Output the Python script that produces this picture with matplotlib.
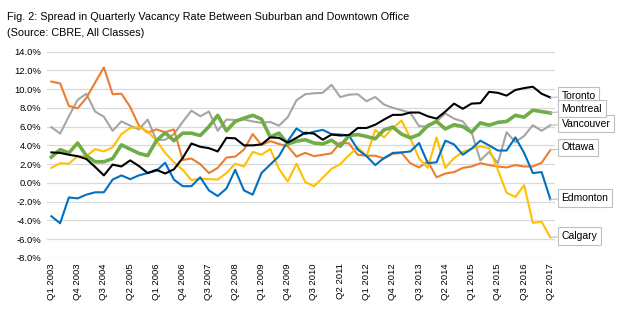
import matplotlib.pyplot as plt
import numpy as np

plt.rcParams['font.family'] = ['Liberation Sans', 'DejaVu Sans']

# quarterly spread, Q1 2003 .. Q2 2017 (%)
quarters = [f"Q{q} {y}" for y in range(2003, 2018) for q in range(1, 5)][:58]

toronto = [3.25, 3.2, 3.0, 2.85, 2.55, 1.7, 0.8, 1.95, 1.75, 2.4, 1.8, 1.05, 1.4, 1.0, 1.45,
           2.65, 4.2, 3.85, 3.7, 3.35, 4.8, 4.75, 4.0, 4.0, 4.1, 4.85, 4.8, 4.3, 4.8, 5.35,
           5.25, 4.6, 5.15, 5.05, 5.1, 5.85, 5.85, 6.2, 6.75, 7.25, 7.25, 7.5, 7.5, 7.1, 6.85,
           7.6, 8.45, 7.9, 8.45, 8.5, 9.7, 9.6, 9.3, 9.9, 10.1, 10.25, 9.5, 9.1]
montreal = [2.75, 3.55, 3.2, 4.25, 2.9, 2.25, 2.25, 2.6, 4.05, 3.6, 3.15, 2.9, 4.5, 5.35, 4.5,
            5.3, 5.3, 5.05, 6.0, 7.2, 5.55, 6.55, 6.9, 7.2, 6.8, 4.9, 5.3, 4.15, 4.45, 4.6,
            4.25, 4.15, 4.55, 3.9, 5.05, 5.15, 4.95, 4.7, 5.65, 5.95, 5.2, 4.8, 5.15, 6.1, 6.55,
            5.75, 6.2, 6.0, 5.4, 6.4, 6.15, 6.45, 6.55, 7.2, 7.0, 7.75, 7.6, 7.45]
vancouver = [5.95, 5.25, 7.1, 8.85, 9.5, 7.6, 7.05, 5.55, 6.55, 6.1, 5.7, 6.75, 4.55, 4.6, 5.2,
             6.5, 7.7, 7.1, 7.6, 5.55, 6.75, 6.7, 6.75, 6.55, 6.4, 6.5, 6.1, 7.0, 8.8, 9.45,
             9.55, 9.6, 10.45, 9.15, 9.4, 9.45, 8.7, 9.15, 8.35, 8.0, 7.75, 7.45, 6.05, 6.0, 6.55,
             7.4, 6.85, 6.55, 5.4, 2.4, 3.3, 2.1, 5.4, 4.35, 5.0, 6.15, 5.55, 6.15]
ottawa = [10.8, 10.6, 8.2, 7.95, 9.05, 10.7, 12.3, 9.45, 9.5, 8.1, 6.1, 5.35, 5.7, 5.4, 5.7,
          2.45, 2.6, 2.0, 1.05, 1.6, 2.7, 2.8, 3.55, 5.2, 4.05, 4.45, 4.15, 3.9, 2.8, 3.2,
          2.85, 3.0, 3.15, 4.3, 4.2, 3.0, 2.9, 2.9, 2.6, 3.1, 3.2, 2.1, 1.65, 2.3, 0.6,
          1.0, 1.15, 1.6, 1.75, 2.1, 1.9, 1.75, 1.65, 1.9, 1.75, 1.75, 2.15, 3.5]
edmonton = [-3.55, -4.3, -1.55, -1.65, -1.25, -1.0, -1.0, 0.35, 0.8, 0.4, 0.8, 1.05, 1.3, 2.15, 0.35,
            -0.35, -0.35, 0.6, -0.8, -1.4, -0.6, 1.4, -0.8, -1.25, 1.05, 1.95, 2.85, 4.45, 5.8, 5.2,
            5.45, 5.65, 5.2, 5.15, 5.05, 3.55, 2.85, 1.9, 2.65, 3.2, 3.25, 3.35, 4.25, 2.1, 2.2,
            4.5, 4.1, 3.0, 3.65, 4.5, 4.0, 3.45, 3.45, 4.85, 3.2, 1.05, 1.15, -1.75]
calgary = [1.6, 2.1, 2.05, 2.85, 2.85, 3.6, 3.35, 3.8, 5.2, 5.85, 5.95, 5.5, 4.5, 3.2, 2.2,
           1.4, 0.3, 0.45, 0.4, 0.35, 1.05, 2.05, 1.75, 3.3, 3.0, 3.6, 1.5, 0.15, 2.05, 0.1,
           -0.35, 0.55, 1.5, 2.0, 2.95, 3.8, 2.85, 5.65, 4.85, 5.85, 6.65, 4.8, 2.6, 1.6, 4.85,
           1.6, 2.65, 3.3, 3.65, 3.9, 3.7, 1.4, -1.05, -1.5, -0.25, -4.25, -4.15, -5.8]

series = [
    ('Vancouver', vancouver, '#A5A5A5', 1.5, (8, 1)),
    ('Ottawa', ottawa, '#ED7D31', 1.5, (8, 2)),
    ('Calgary', calgary, '#FFC000', 1.5, (8, 1)),
    ('Edmonton', edmonton, '#0070C0', 1.5, (8, 1)),
    ('Montreal', montreal, '#70AD47', 2.6, (8, 3)),
    ('Toronto', toronto, '#000000', 1.5, (8, 1)),
]

fig = plt.figure(figsize=(6.24, 3.26), dpi=100)
ax = fig.add_axes([0.0753, 0.2086, 0.8137, 0.6334])

x = np.arange(len(quarters))
for name, vals, color, lw, off in series:
    ax.plot(x, vals, color=color, lw=lw, solid_joinstyle='round', zorder=3)

# end-of-line labels in boxes with leader lines
label_z = {'Toronto': 6, 'Montreal': 7, 'Vancouver': 6, 'Ottawa': 6, 'Edmonton': 6, 'Calgary': 6}
for name, vals, color, lw, off in series:
    ax.annotate(name, xy=(x[-1], vals[-1]), xytext=off, textcoords='offset points',
                ha='left', va='center', fontsize=7.5, color='#000000',
                bbox=dict(boxstyle='square,pad=0.35', fc='white', ec='#bfbfbf', lw=0.8),
                arrowprops=dict(arrowstyle='-', color='#bfbfbf', lw=0.8, shrinkA=0, shrinkB=0),
                annotation_clip=False, zorder=label_z[name])

ax.set_xlim(-0.5, len(quarters) - 0.5)
ax.set_ylim(-8, 14)
ax.set_yticks(np.arange(-8, 15, 2))
ax.set_yticklabels([f"{v:.1f}%" for v in np.arange(-8, 15, 2)], fontsize=6.8)
ax.set_xticks(x[::3])
ax.set_xticklabels(quarters[::3], rotation=90, fontsize=6.8)
ax.tick_params(length=0, pad=4)
ax.grid(axis='y', color='#d9d9d9', lw=0.9)
ax.set_axisbelow(True)
for s in ax.spines.values():
    s.set_visible(False)

fig.text(0.011, 0.947, 'Fig. 2: Spread in Quarterly Vacancy Rate Between Suburban and Downtown Office',
         fontsize=7.8, va='center')
fig.text(0.011, 0.898, '(Source: CBRE, All Classes)', fontsize=7.8, va='center')

fig.savefig('out.png', dpi=100)
